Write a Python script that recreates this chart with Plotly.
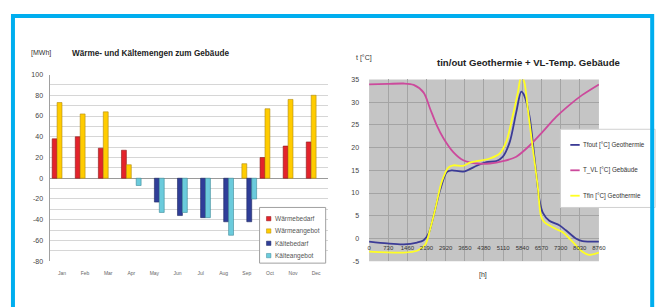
import plotly.graph_objects as go

W, H = 665, 307
OFF = 8  # page body margin of the written html


def px(x):
    return (x - OFF) / W


def py(y):
    return 1 - (y - OFF) / H


FONT = "Liberation Sans, Arial, sans-serif"

# ---------------- left chart data ----------------
months = ["Jan", "Feb", "Mar", "Apr", "May", "Jun", "Jul", "Aug", "Sep", "Oct", "Nov", "Dec"]
waerme_bedarf = [38, 40, 29, 27, None, None, None, None, None, 20, 31, 35]
waerme_angebot = [73, 62, 64, 13, None, None, None, None, 14, 67, 76, 80]
kaelte_bedarf = [None, None, None, None, -23, -36, -38, -42, -42, None, None, None]
kaelte_angebot = [None, None, None, -7, -33, -33, -38, -55, -20, None, None, None]
mwh_ticks = [-80, -60, -40, -20, 0, 20, 40, 60, 80, 100]

# ---------------- right chart data ----------------
hours_ticks = [0, 730, 1460, 2190, 2920, 3650, 4380, 5110, 5840, 6570, 7300, 8030, 8760]
temp_ticks = [-5, 0, 5, 10, 15, 20, 25, 30, 35]

tfout_h = [0, 690, 1320, 1830, 2080, 2270, 2460, 2710, 2960, 3150, 3590, 4100, 4470, 4850,
           5100, 5360, 5610, 5800, 5920, 6110, 6240, 6360, 6490, 6620, 6870, 7250, 7500,
           7880, 8130, 8380, 8760]
tfout_t = [-0.7, -1.1, -1.3, -0.9, -0.4, 1.1, 5.0, 10.7, 14.6, 15.0, 14.7, 16.0, 16.8, 17.0,
           18.0, 21.2, 27.8, 32.3, 31.4, 27.0, 21.2, 14.9, 8.6, 5.7, 3.9, 2.9, 1.8,
           0.0, -0.6, -0.7, -0.7]

tvl_h = [0, 700, 1320, 1700, 2080, 2330, 2580, 2840, 3210, 3590, 4100, 4600, 5100, 5610,
         6110, 6620, 7120, 7620, 8130, 8760]
tvl_t = [33.9, 34.0, 34.1, 33.8, 32.1, 28.5, 24.9, 22.0, 19.0, 17.2, 16.5, 16.5, 17.0, 18.0,
         20.4, 23.5, 26.7, 29.3, 31.6, 33.9]

tfin_h = [0, 1320, 1830, 2140, 2330, 2520, 2770, 3020, 3210, 3590, 3840, 4100, 4600, 4980,
          5230, 5480, 5670, 5800, 5920, 6050, 6240, 6430, 6550, 6680, 7120, 7370, 7750,
          8130, 8380, 8760]
tfin_t = [-2.9, -3.1, -2.7, -1.4, 2.1, 6.4, 12.5, 15.6, 16.1, 16.0, 16.7, 17.0, 17.6, 18.7,
          21.3, 27.1, 32.1, 35.8, 34.3, 28.5, 19.8, 11.4, 5.0, 3.6, 2.1, 1.4, -0.7,
          -2.9, -3.6, -3.1]

fig = go.Figure()

bar_specs = [
    ("Wärmebedarf", waerme_bedarf, "#e3232b", "#8a1a1a"),
    ("Wärmeangebot", waerme_angebot, "#ffcc00", "#b08a10"),
    ("Kältebedarf", kaelte_bedarf, "#2f3e98", "#1d2660"),
    ("Kälteangebot", kaelte_angebot, "#6bcbdc", "#3d8a99"),
]
for name, vals, col, lc in bar_specs:
    fig.add_trace(go.Bar(
        x=months, y=vals, name=name, marker=dict(color=col, line=dict(color=lc, width=0.6)),
        xaxis="x", yaxis="y", showlegend=False,
    ))

line_specs = [
    ("Tfout [°C] Geothermie", tfout_h, tfout_t, "#3b3b96"),
    ("T_VL [°C] Gebäude", tvl_h, tvl_t, "#cc4a9c"),
    ("Tfin [°C] Geothermie", tfin_h, tfin_t, "#ffff22"),
]
for name, hx, ty, col in line_specs:
    fig.add_trace(go.Scatter(
        x=hx, y=ty, name=name, mode="lines",
        line=dict(color=col, width=1.8, shape="spline", smoothing=0.8),
        xaxis="x2", yaxis="y2", showlegend=False,
    ))

shapes = [
    dict(type="rect", xref="x2 domain", yref="y2 domain", x0=0, x1=1, y0=0, y1=1,
         fillcolor="#c5c5c5", line=dict(width=0), layer="below"),
]
annotations = [
    dict(text="[MWh]", x=px(27), y=py(50), xanchor="left", yanchor="middle",
         font=dict(size=7, color="#333333")),
    dict(text="<b>Wärme- und Kältemengen zum Gebäude</b>", x=px(150), y=py(50),
         xanchor="center", yanchor="middle", font=dict(size=8.2, color="#222222")),
    dict(text="t [°C]", x=px(357), y=py(55), xanchor="left", yanchor="middle",
         font=dict(size=7, color="#333333")),
    dict(text="<b>tin/out Geothermie + VL-Temp. Gebäude</b>", x=px(534), y=py(60),
         xanchor="center", yanchor="middle", font=dict(size=9.6, color="#222222")),
    dict(text="[h]", x=px(487), y=py(277), xanchor="center", yanchor="middle",
         font=dict(size=7, color="#333333")),
]

# left legend (drawn manually for compact spacing)
shapes.append(dict(type="rect", xref="paper", yref="paper", x0=px(261), x1=px(328),
                   y0=py(265), y1=py(208), fillcolor="white",
                   line=dict(color="#a0a0a0", width=1), layer="above"))
for i, (name, _, col, lc) in enumerate(bar_specs):
    yc = 219.5 + i * 12.6
    shapes.append(dict(type="rect", xref="paper", yref="paper", x0=px(268), x1=px(272.5),
                       y0=py(yc + 2.2), y1=py(yc - 2.2), fillcolor=col,
                       line=dict(color=lc, width=0.5), layer="above"))
    annotations.append(dict(text=name, x=px(274.5), y=py(yc), xanchor="left", yanchor="middle",
                            font=dict(size=6.5, color="#555555")))

# right legend
shapes.append(dict(type="rect", xref="paper", yref="paper", x0=px(566), x1=px(662),
                   y0=py(208), y1=py(128), fillcolor="white",
                   line=dict(color="#d0d0d0", width=1), layer="above"))
for i, (name, _, _, col) in enumerate(line_specs):
    yc = 144 + i * 26
    shapes.append(dict(type="line", xref="paper", yref="paper", x0=px(576), x1=px(585.5),
                       y0=py(yc), y1=py(yc), line=dict(color=col, width=1.8), layer="above"))
    annotations.append(dict(text=name, x=px(586.5), y=py(yc), xanchor="left", yanchor="middle",
                            font=dict(size=6.3, color="#333333")))

# blue frame
shapes.append(dict(type="rect", xref="paper", yref="paper", x0=px(11), x1=px(659),
                   y0=-0.2, y1=py(12), fillcolor="rgba(0,0,0,0)",
                   line=dict(color="#00aeef", width=4), layer="above"))

for a in annotations:
    a.update(xref="paper", yref="paper", showarrow=False)

fig.update_layout(
    width=W, height=H,
    margin=dict(l=0, r=0, t=0, b=0),
    paper_bgcolor="white", plot_bgcolor="rgba(0,0,0,0)",
    font=dict(family=FONT, size=7, color="#333333"),
    showlegend=False,
    barmode="group", bargap=0.15, bargroupgap=0,
    xaxis=dict(domain=[px(49), px(330)], anchor="y", type="category",
               showgrid=False, ticks="", showline=False,
               tickfont=dict(size=5, color="#666666"), ticklabelstandoff=8),
    yaxis=dict(domain=[py(263), py(72)], anchor="x", range=[-80, 100],
               tickvals=mwh_ticks, ticktext=[str(v) for v in mwh_ticks],
               showgrid=True, gridcolor="#d6d6d6", gridwidth=1,
               minor=dict(dtick=10, showgrid=True, gridcolor="#d6d6d6"),
               zeroline=True, zerolinecolor="#9a9a9a", zerolinewidth=1,
               showline=True, linecolor="#a0a0a0", linewidth=1,
               tickfont=dict(size=7, color="#444444"), ticks="", ticklabelstandoff=5),
    xaxis2=dict(domain=[px(372), px(605)], anchor="free", position=py(240), range=[0, 8760],
                tickvals=hours_ticks, showgrid=True, gridcolor="#a4a4a4", gridwidth=1,
                zeroline=False, showline=False, ticks="",
                tickfont=dict(size=6, color="#333333"), ticklabelstandoff=4),
    yaxis2=dict(domain=[py(263), py(77)], anchor="x2", range=[-5, 35],
                tickvals=temp_ticks, ticktext=[str(v) for v in temp_ticks],
                showgrid=True, gridcolor="#a4a4a4", gridwidth=1, zeroline=False,
                showline=False, ticks="", tickfont=dict(size=7, color="#444444"),
                ticklabelstandoff=9),
    shapes=shapes,
    annotations=annotations,
)

fig.write_html("out.html")
